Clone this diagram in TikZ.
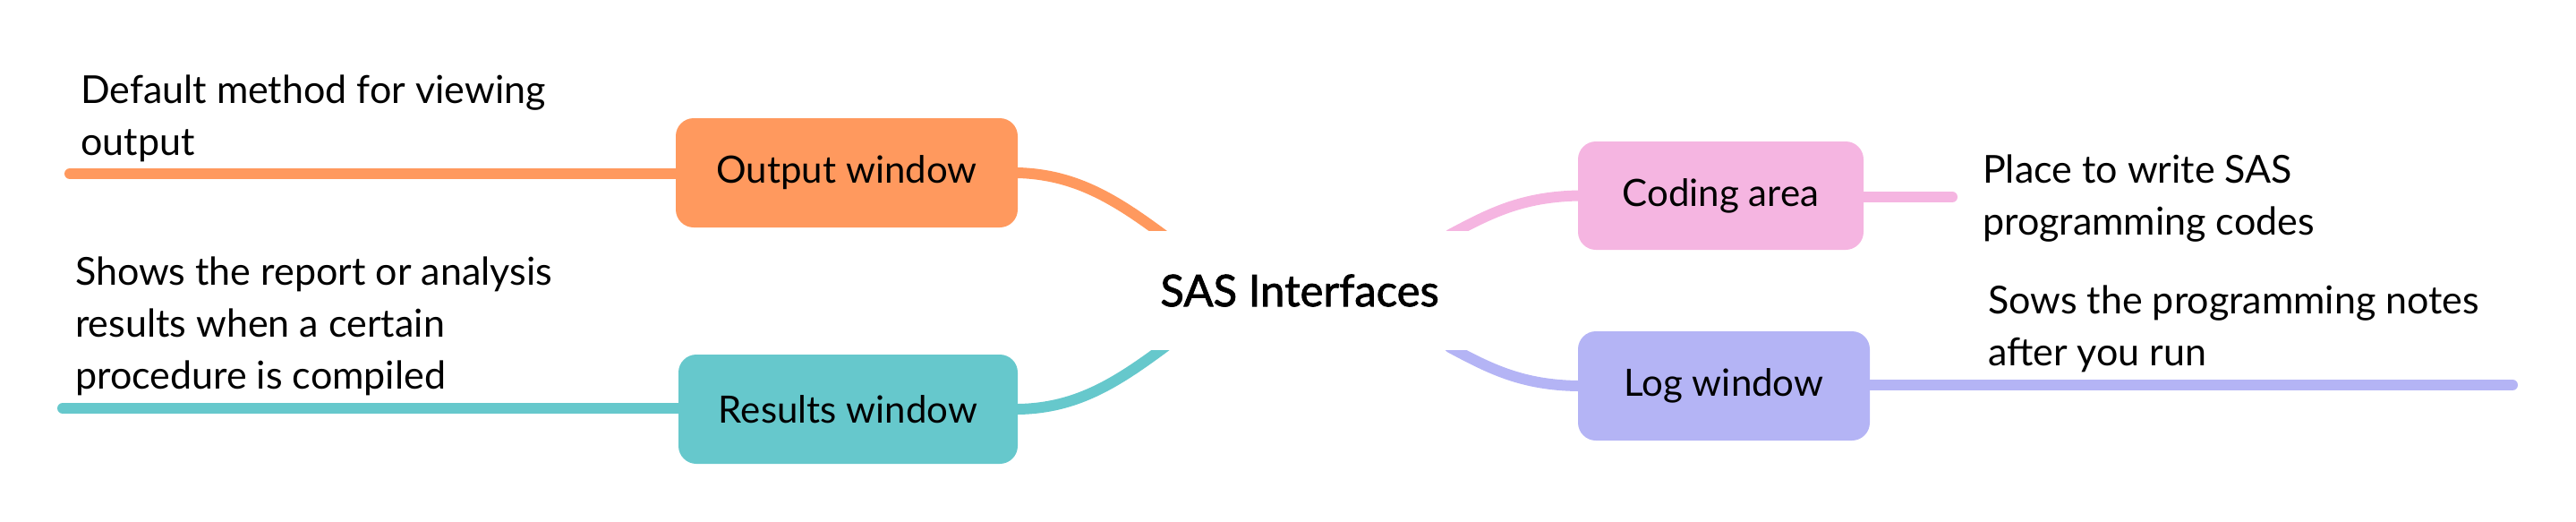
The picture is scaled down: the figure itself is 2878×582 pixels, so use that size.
\documentclass[tikz,border=0pt]{standalone}
\usepackage{fontspec}
\setmainfont{Lato}
\newfontfamily\rootfont[RawFeature={embolden=1.6}]{Lato}
\usetikzlibrary{backgrounds}
\definecolor{corange}{HTML}{FF995E}
\definecolor{cteal}{HTML}{66C8CC}
\definecolor{cpink}{HTML}{F5B5E1}
\definecolor{clav}{HTML}{B4B4F5}
\begin{document}
\begin{tikzpicture}[x=1pt,y=-1pt,
  topic/.style={rounded corners=20pt, inner sep=0pt, minimum height=122pt,
    font=\fontsize{42}{50}\selectfont, text=black},
  desc/.style={align=left, anchor=base west, inner sep=0pt,
    font=\fontsize{43}{58}\selectfont, text=black},
  branch/.style={line width=12pt, line cap=round}]
\useasboundingbox (0,0) rectangle (2878,582);
% central topic (white field hides the curve ends)
\node[fill=white, minimum width=410pt, minimum height=133pt, inner sep=0pt,
  font=\rootfont\fontsize{49}{50}\selectfont] (root) at (1452,324.5) {SAS Interfaces};
% main topics
\node[topic, fill=corange, minimum width=382pt] (out) at (946,193) {Output window};
\node[topic, fill=cteal, minimum width=379pt] (res) at (947.5,457) {Results window};
\node[topic, fill=cpink, minimum width=319pt, minimum height=121pt] (cod) at (1922.5,218.5) {Coding area};
\node[topic, fill=clav, minimum width=326pt] (log) at (1926,431) {Log window};
% descriptions (anchor = baseline of the last line)
\node[desc] (dout) at (90,173) {Default method for viewing\\output};
\node[desc] (dres) at (84,434) {Shows the report or analysis\\results when a certain\\procedure is compiled};
\node[desc] (dcod) at (2215,262) {Place to write SAS\\programming codes};
\node[desc] (dlog) at (2221,408) {Sows the programming notes\\after you run};
% free ends
\coordinate (eout) at (78,194);
\coordinate (eres) at (70,456);
\coordinate (ecod) at (2181,220);
\coordinate (elog) at (2807,430);
\coordinate (cout) at (1310,270);
\coordinate (cres) at (1310,381);
\coordinate (ccod) at (1620,262);
\coordinate (clog) at (1620,388);
\begin{scope}[on background layer]
  \draw[branch, corange] (out.center |- eout) -- (eout);
  \draw[branch, cteal] (res.center |- eres) -- (eres);
  \draw[branch, cpink] (cod.center |- ecod) -- (ecod);
  \draw[branch, clav] (log.center |- elog) -- (elog);
  \draw[branch, corange] (out.east) .. controls (1205,195) and (1250,225) .. (cout);
  \draw[branch, cteal] (res.east) .. controls (1205,456) and (1250,426) .. (cres);
  \draw[branch, cpink] (cod.west) .. controls (1700,220) and (1665,238) .. (ccod);
  \draw[branch, clav] (log.west) .. controls (1700,430) and (1665,412) .. (clog);
\end{scope}
\end{tikzpicture}
\end{document}
